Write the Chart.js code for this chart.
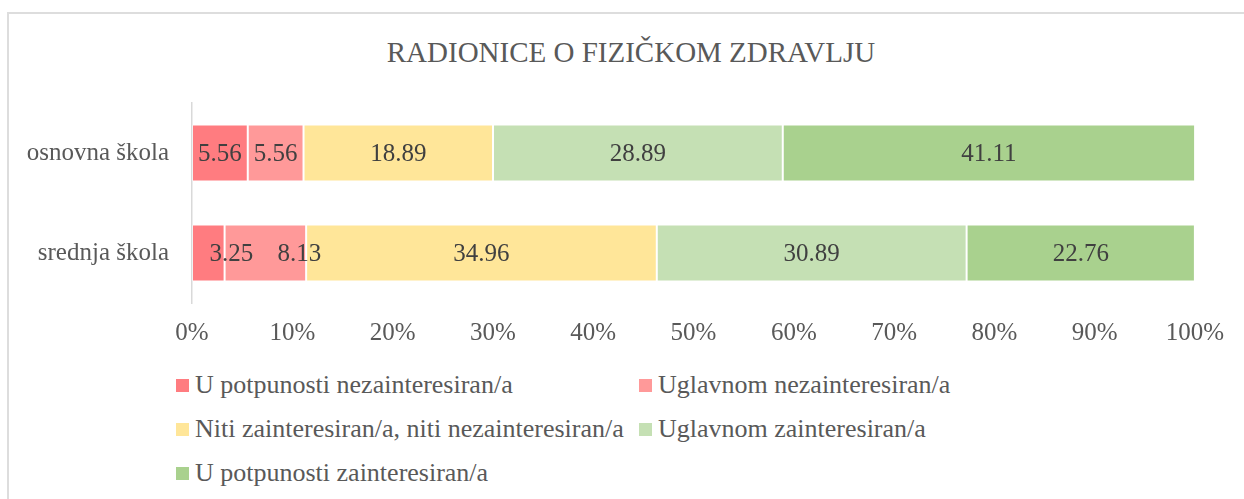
<!DOCTYPE html>
<html>
<head>
<meta charset="utf-8">
<script src="https://cdn.jsdelivr.net/npm/chart.js@4/dist/chart.umd.min.js"></script>
<style>
    html, body {
        margin: 0;
        padding: 0;
        background: #fff;
        overflow: hidden;
    }
    #frame {
        position: absolute;
        left: 7px;
        top: 12px;
        width: 1400px;
        height: 600px;
        border: 2px solid #DDDDDD;
    }
    #title {
        position: absolute;
        left: 0;
        top: 35px;
        width: 1262px;
        text-align: center;
        font-family: 'Liberation Serif', serif;
        font-size: 29px;
        line-height: 35px;
        color: #595959;
    }
    #wrap {
        position: absolute;
        left: 0;
        top: 0;
        width: 1244px;
        height: 360px;
    }
    #legend {
        position: absolute;
        left: 176px;
        top: 363px;
        display: grid;
        grid-template-columns: 463px auto;
        grid-auto-rows: 44px;
        font-family: 'Liberation Serif', serif;
        font-size: 26px;
        color: #595959;
    }
    #legend .item {
        display: flex;
        align-items: center;
        white-space: nowrap;
    }
    #legend .box {
        width: 13px;
        height: 13px;
        margin-right: 6px;
        flex: none;
    }
</style>
</head>
<body>
<div id="frame"></div>
<div id="title">RADIONICE O FIZIČKOM ZDRAVLJU</div>
<div id="wrap"><canvas id="workshopChart"></canvas></div>
<div id="legend"></div>

<script>
const schools = ['osnovna škola', 'srednja škola'];
const answers = [
    'U potpunosti nezainteresiran/a',
    'Uglavnom nezainteresiran/a',
    'Niti zainteresiran/a, niti nezainteresiran/a',
    'Uglavnom zainteresiran/a',
    'U potpunosti zainteresiran/a'
];
const notInterested = [5.56, 3.25];
const mostlyNotInterested = [5.56, 8.13];
const neutral = [18.89, 34.96];
const mostlyInterested = [28.89, 30.89];
const veryInterested = [41.11, 22.76];
const percentTicks = [0, 10, 20, 30, 40, 50, 60, 70, 80, 90, 100];
const colors = ['#FF7C80', '#FF9999', '#FFE699', '#C5E0B4', '#A9D18E'];

Chart.defaults.font.family = "'Liberation Serif', serif";
Chart.defaults.color = '#595959';

const series = [notInterested, mostlyNotInterested, neutral, mostlyInterested, veryInterested];

// small segments where the value text is pushed right so it stays readable
const labelNudge = { '1,0': 23, '1,1': 34 };

const segmentLabels = {
    id: 'segmentLabels',
    afterDatasetsDraw(chart) {
        const ctx = chart.ctx;
        ctx.save();
        ctx.font = "25px 'Liberation Serif', serif";
        ctx.fillStyle = '#404040';
        ctx.textAlign = 'center';
        ctx.textBaseline = 'middle';
        chart.data.datasets.forEach((ds, di) => {
            const meta = chart.getDatasetMeta(di);
            meta.data.forEach((bar, i) => {
                const shift = labelNudge[i + ',' + di] || 0;
                const x = (bar.x + bar.base) / 2 + shift;
                ctx.fillText(ds.data[i].toFixed(2), x, bar.y + 1);
            });
        });
        ctx.restore();
    }
};

const chart = new Chart(document.getElementById('workshopChart'), {
    type: 'bar',
    data: {
        labels: schools,
        datasets: answers.map((name, i) => ({
            label: name,
            data: series[i],
            backgroundColor: colors[i],
            borderColor: 'rgba(255,255,255,0.3)',
            borderWidth: 1,
            borderSkipped: false,
            barPercentage: 0.57,
            categoryPercentage: 1
        }))
    },
    options: {
        indexAxis: 'y',
        responsive: true,
        maintainAspectRatio: false,
        animation: false,
        layout: {
            padding: { left: 0, right: 49, top: 103, bottom: 0 }
        },
        plugins: {
            legend: { display: false },
            tooltip: { enabled: false },
            title: { display: false }
        },
        scales: {
            x: {
                stacked: true,
                min: 0,
                max: 100,
                afterBuildTicks: (scale) => {
                    scale.ticks = percentTicks.map(v => ({ value: v }));
                },
                afterFit: (scale) => { scale.height = 57; },
                grid: { display: false, drawTicks: false },
                border: { display: false },
                ticks: {
                    padding: 15,
                    color: '#595959',
                    font: { size: 25 },
                    maxRotation: 0,
                    callback: (v) => v + '%'
                }
            },
            y: {
                stacked: true,
                afterFit: (scale) => { scale.width = 192; },
                grid: { display: false, drawTicks: false },
                border: { display: true, color: '#D9D9D9', width: 1.5 },
                ticks: {
                    padding: 23,
                    color: '#595959',
                    font: { size: 25 }
                }
            }
        }
    },
    plugins: [segmentLabels]
});

// legend laid out in two columns under the plot
const legendEl = document.getElementById('legend');
chart.data.datasets.forEach((ds) => {
    const item = document.createElement('div');
    item.className = 'item';
    const box = document.createElement('span');
    box.className = 'box';
    box.style.background = ds.backgroundColor;
    const text = document.createElement('span');
    text.textContent = ds.label;
    item.appendChild(box);
    item.appendChild(text);
    legendEl.appendChild(item);
});
</script>
</body>
</html>
